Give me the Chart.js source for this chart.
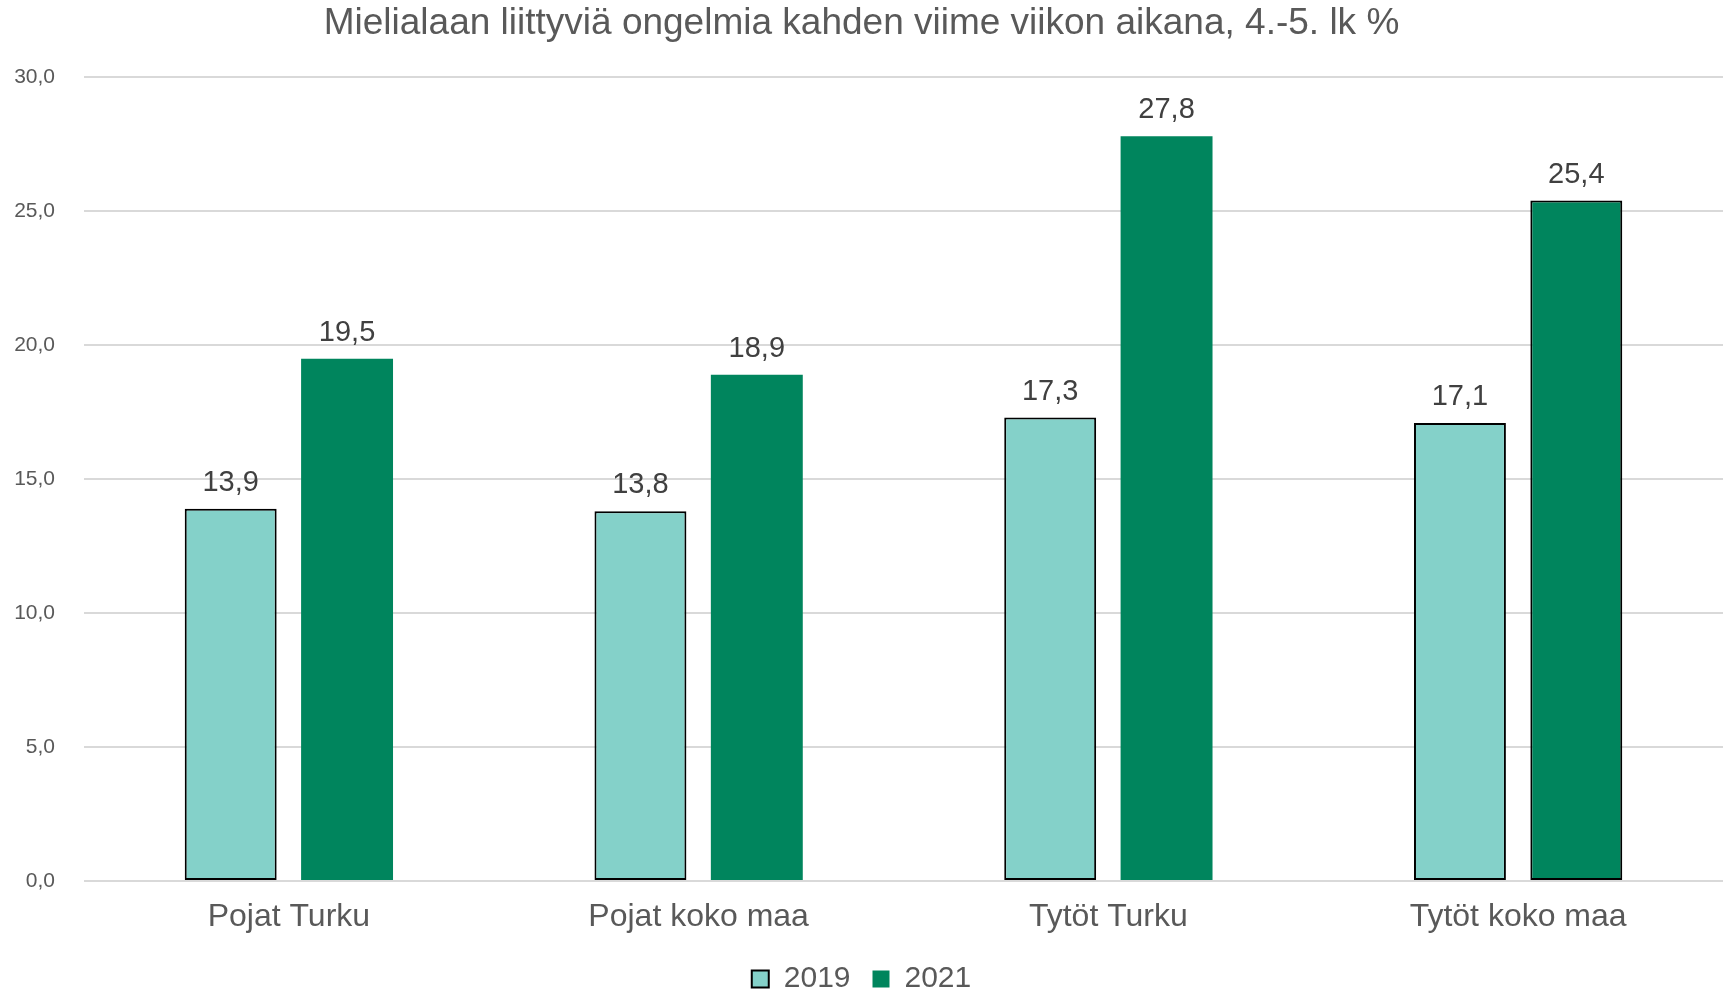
<!DOCTYPE html>
<html lang="fi">
<head>
    <meta charset="UTF-8">
    <title>Mielialaan liittyviä ongelmia</title>
    <script src="https://cdn.jsdelivr.net/npm/chart.js@4.4.1/dist/chart.umd.min.js"></script>
    <style>
        html, body { margin: 0; padding: 0; background: #ffffff; }
        .wrap { width: 1726px; height: 992px; position: relative; }
    </style>
</head>
<body>
    <div class="wrap"><canvas id="chart"></canvas></div>
    <script>
        const categories = ['Pojat Turku', 'Pojat koko maa', 'Tytöt Turku', 'Tytöt koko maa'];
        const values2019 = [13.9, 13.8, 17.3, 17.1];
        const values2021 = [19.5, 18.9, 27.8, 25.4];
        const titleText = 'Mielialaan liittyviä ongelmia kahden viime viikon aikana, 4.-5. lk %';

        const fmt = v => v.toFixed(1).replace('.', ',');
        const FONT = "'Liberation Sans', Arial, sans-serif";

        // draws the value above each bar
        const barLabels = {
            id: 'barLabels',
            afterDatasetsDraw(chart) {
                const ctx = chart.ctx;
                ctx.save();
                ctx.font = '29px ' + FONT;
                ctx.fillStyle = '#404040';
                ctx.textAlign = 'center';
                ctx.textBaseline = 'alphabetic';
                chart.data.datasets.forEach((ds, i) => {
                    chart.getDatasetMeta(i).data.forEach((bar, j) => {
                        ctx.fillText(fmt(ds.data[j]), bar.x, bar.y - 18);
                    });
                });
                ctx.restore();
            }
        };

        new Chart(document.getElementById('chart'), {
            type: 'bar',
            data: {
                labels: categories,
                datasets: [{
                    label: '2019',
                    data: values2019,
                    backgroundColor: '#84d1c9',
                    borderColor: '#000000',
                    borderWidth: 2,
                    borderSkipped: false,
                    categoryPercentage: 0.568,
                    barPercentage: 0.79
                }, {
                    label: '2021',
                    data: values2021,
                    backgroundColor: '#00855d',
                    borderColor: '#000000',
                    // only the last bar is outlined in the original
                    borderWidth: c => (c.dataIndex === 3 ? 2 : 0),
                    borderSkipped: false,
                    categoryPercentage: 0.568,
                    barPercentage: 0.79
                }]
            },
            options: {
                responsive: true,
                maintainAspectRatio: false,
                animation: false,
                layout: { padding: { left: 0, right: 3, top: 0, bottom: -12 } },
                plugins: {
                    title: {
                        display: true,
                        text: titleText,
                        color: '#595959',
                        font: { family: FONT, size: 37, weight: 'normal' },
                        padding: { top: 2, bottom: 31 }
                    },
                    legend: {
                        position: 'bottom',
                        labels: {
                            color: '#595959',
                            font: { family: FONT, size: 30 },
                            boxWidth: 17,
                            boxHeight: 17,
                            padding: 22
                        }
                    },
                    tooltip: { enabled: false }
                },
                scales: {
                    x: {
                        grid: { display: false },
                        border: { display: false },
                        ticks: {
                            color: '#595959',
                            font: { family: FONT, size: 32 },
                            padding: 9
                        },
                        afterFit: s => { s.height = 61; }
                    },
                    y: {
                        min: 0,
                        max: 30,
                        grid: { color: '#d9d9d9', lineWidth: 2, drawTicks: false },
                        border: { display: false },
                        ticks: {
                            stepSize: 5,
                            color: '#595959',
                            font: { family: FONT, size: 21 },
                            padding: 29,
                            callback: v => fmt(v)
                        },
                        afterFit: s => { s.width = 84; }
                    }
                }
            },
            plugins: [barLabels]
        });
    </script>
</body>
</html>
